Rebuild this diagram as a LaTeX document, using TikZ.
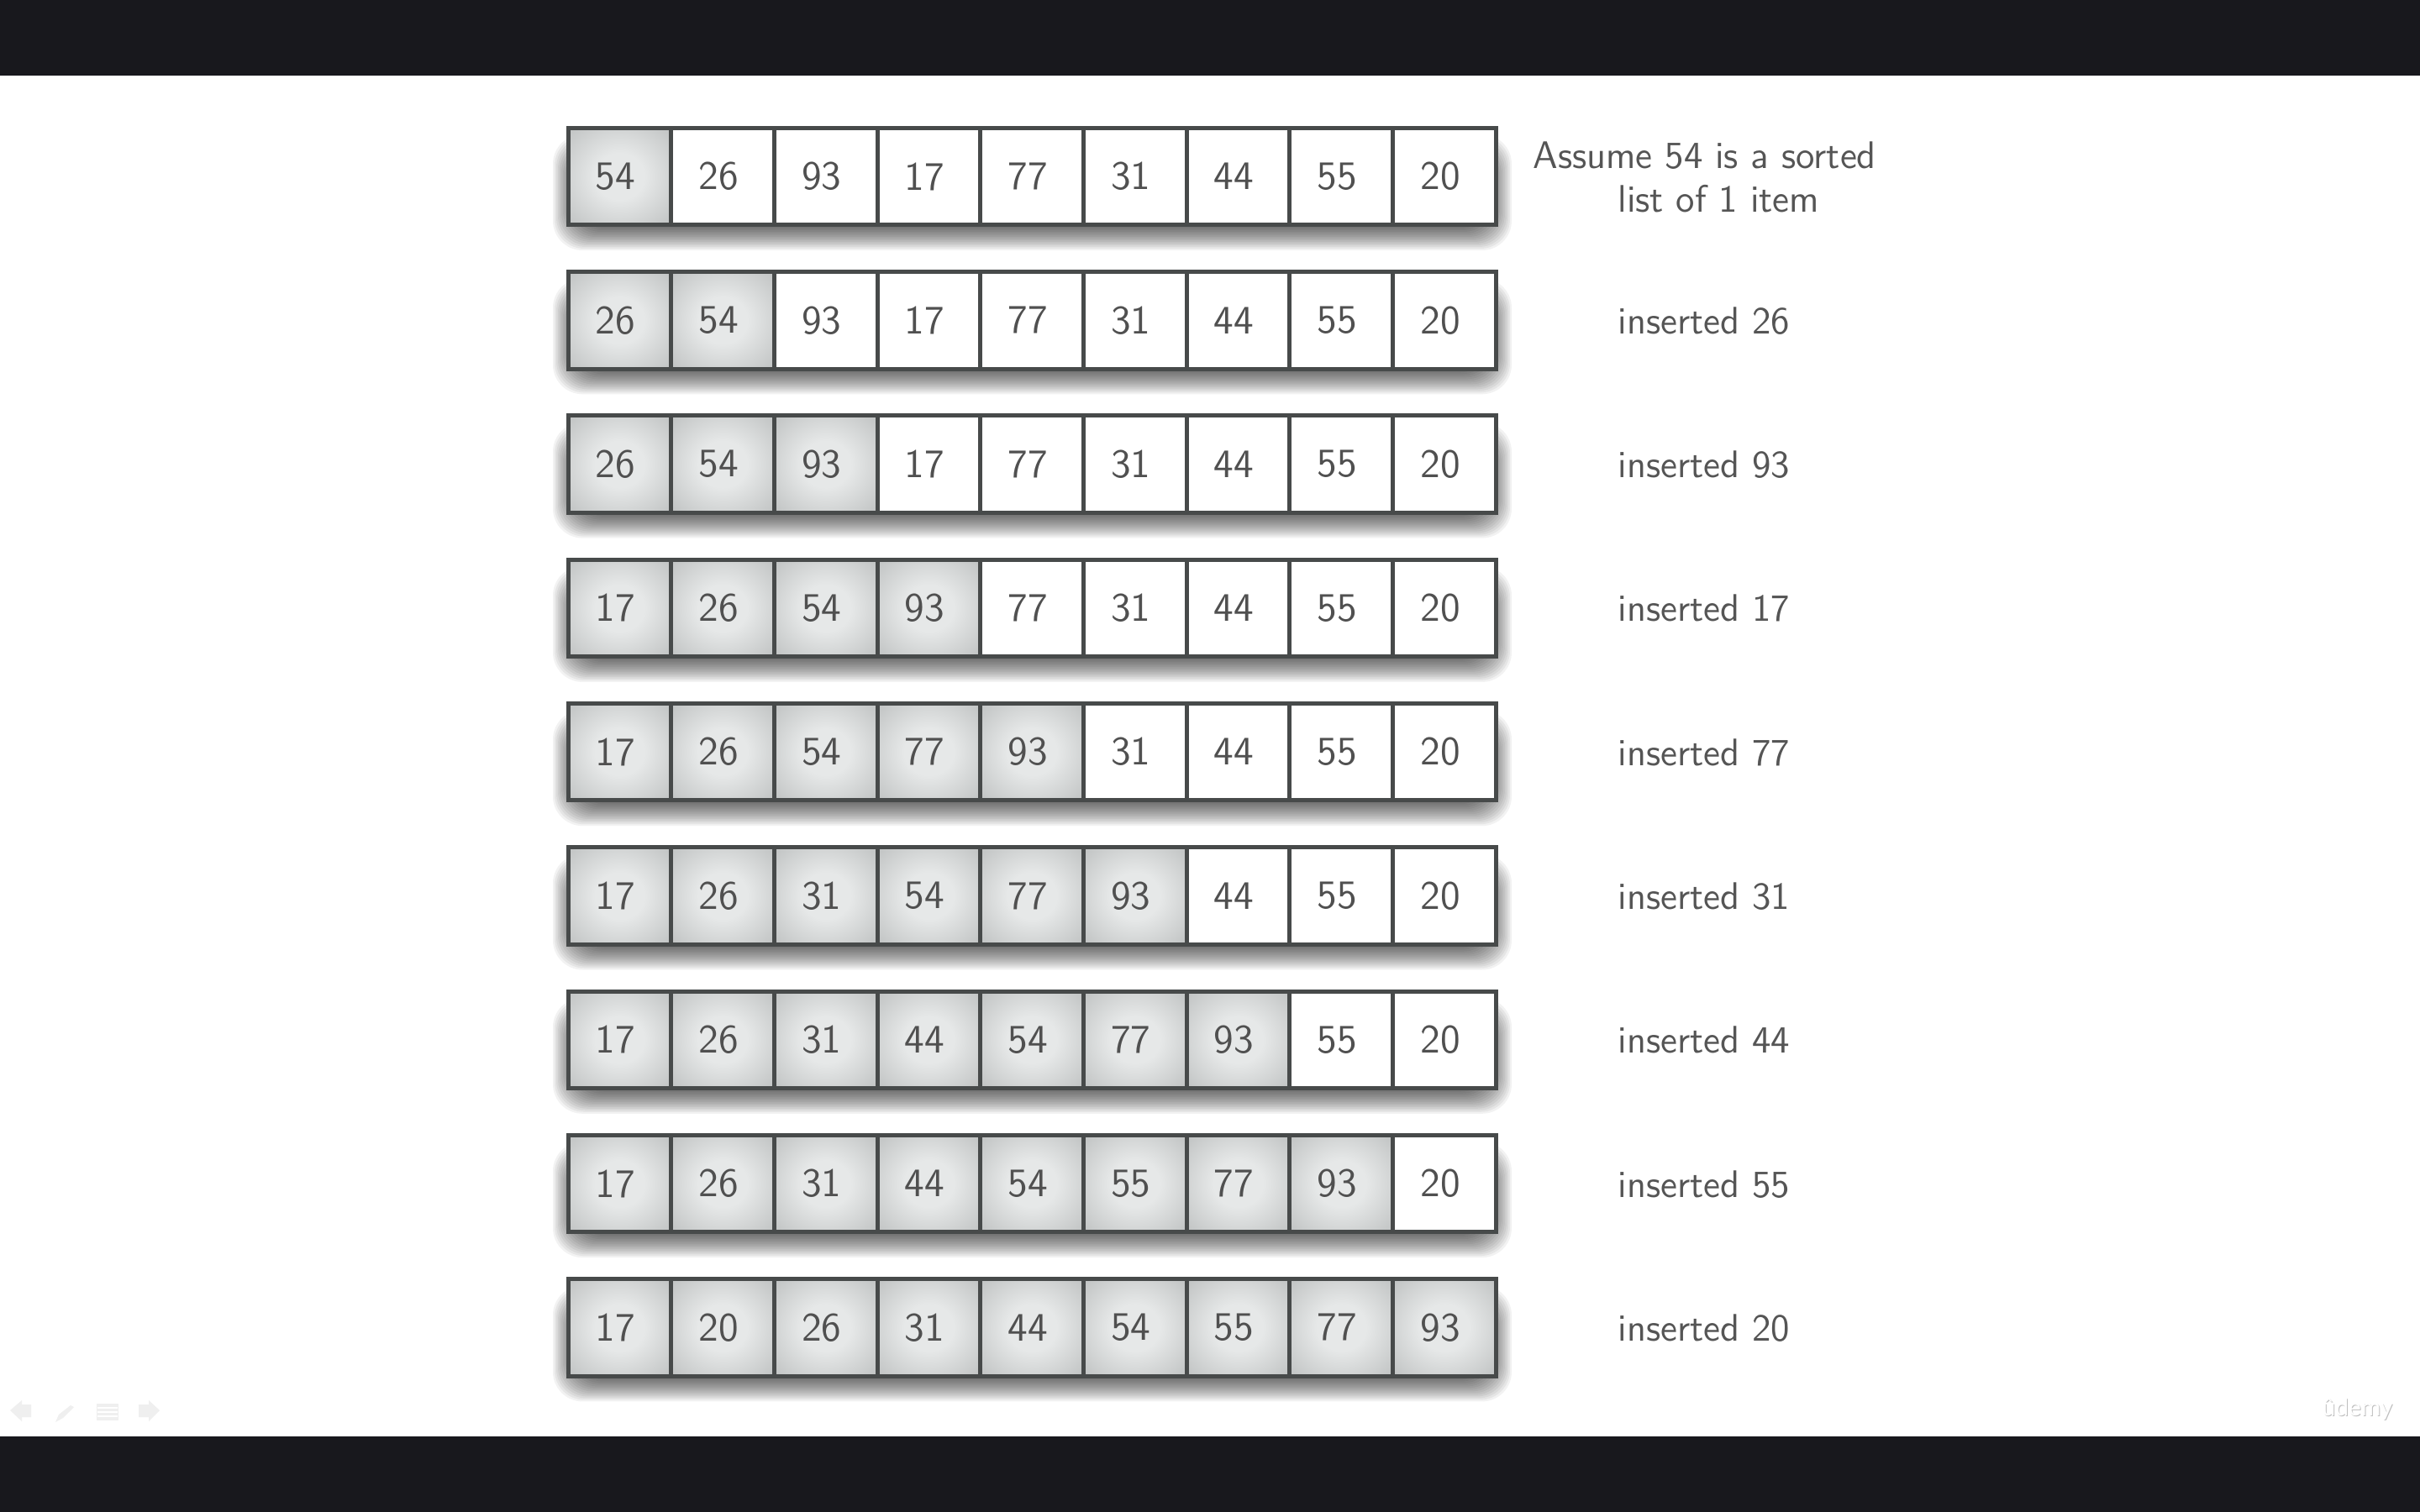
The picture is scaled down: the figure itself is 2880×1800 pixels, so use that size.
\documentclass[tikz,border=0pt]{standalone}
\usepackage{fontspec}
\newfontfamily\brandfont{Lato}
\definecolor{barcol}{HTML}{18181D}
\definecolor{linecol}{HTML}{474A4A}
\definecolor{numcol}{HTML}{505050}
\definecolor{labelcol}{HTML}{555555}
\definecolor{iconcol}{HTML}{EFEFEF}
\definecolor{midcol}{HTML}{E6E8E8}
\definecolor{edgecol}{HTML}{A8ABAB}
\pgfdeclareradialshading{cellshade}{\pgfpoint{0bp}{0bp}}{color(0bp)=(midcol); color(12bp)=(midcol); color(50bp)=(edgecol); color(70bp)=(edgecol!90!black)}
\tikzset{
  opencell/.style={draw=linecol, line width=.05cm, fill=white, minimum width=1.227cm, minimum height=1.155cm, inner sep=0pt, text=numcol, font=\fontsize{13.7}{17}\sffamily},
  sortedcell/.style={opencell, shading=cellshade},
  rowlabel/.style={anchor=base west, inner sep=0pt, text=labelcol, font=\fontsize{13}{14.8}\sffamily},
  brandmark/.style={anchor=base west, inner sep=0pt, font=\fontsize{8}{10}\brandfont}
}
\begin{document}
\begin{tikzpicture}[x=.01cm, y=-.01cm]
  \useasboundingbox (0,0) rectangle (2880,1800);
  \fill[white] (0,0) rectangle (2880,1800);
  \fill[barcol] (0,0) rectangle (2880,90);
  \fill[barcol] (0,1710) rectangle (2880,1800);
  \foreach \r/\vals in {
    1/{54,26,93,17,77,31,44,55,20},
    2/{26,54,93,17,77,31,44,55,20},
    3/{26,54,93,17,77,31,44,55,20},
    4/{17,26,54,93,77,31,44,55,20},
    5/{17,26,54,77,93,31,44,55,20},
    6/{17,26,31,54,77,93,44,55,20},
    7/{17,26,31,44,54,77,93,55,20},
    8/{17,26,31,44,54,55,77,93,20},
    9/{17,20,26,31,44,54,55,77,93}} {
    \pgfmathsetmacro\rowtop{152+(\r-1)*171.3}
    \foreach \g in {-18,-16,...,18}
      \fill[black, opacity=.05, rounded corners=10] (676-\g,\rowtop+26-\g) rectangle (1781+\g,\rowtop+128+\g);
    \foreach \v [count=\i] in \vals {
      \pgfmathsetmacro\cellx{676+61.4+(\i-1)*122.7}
      \edef\cellsty{\ifnum\i>\r opencell\else sortedcell\fi}
      \node[\cellsty] (c-\r-\i) at (\cellx,\rowtop+58) {\v\kern.1cm};
    }
  }
  \node[rowlabel, align=left, anchor=north west] (l-1) at (1824,168) {Assume 54 is a sorted\\\hspace*{1.01cm}list of 1 item};
  \foreach \r/\n in {2/26,3/93,4/17,5/77,6/31,7/44,8/55,9/20} {
    \pgfmathsetmacro\rowbase{152+(\r-1)*171.3+74}
    \node[rowlabel] (l-\r) at (1925,\rowbase) {inserted \n};
  }
  \fill[iconcol] (12,1679) -- (26,1667) -- (26,1672) -- (37,1672) -- (37,1687) -- (26,1687) -- (26,1692) -- cycle;
  \fill[iconcol] (66,1693) -- (70,1684) -- (84,1673) -- (88,1675) -- (75,1688) -- cycle;
  \fill[iconcol] (115,1671) rectangle (141,1691);
  \draw[white, line width=.015cm] (116,1676) -- (140,1676) (116,1681) -- (140,1681) (116,1686) -- (140,1686);
  \fill[iconcol] (190,1679) -- (177,1667) -- (177,1672) -- (165,1672) -- (165,1687) -- (177,1687) -- (177,1692) -- cycle;
  \node[brandmark, text=black!25] (brandshade) at (2764,1686) {ûdemy};
  \node[brandmark, text=white] (brand) at (2763,1685) {ûdemy};
\end{tikzpicture}
\end{document}
